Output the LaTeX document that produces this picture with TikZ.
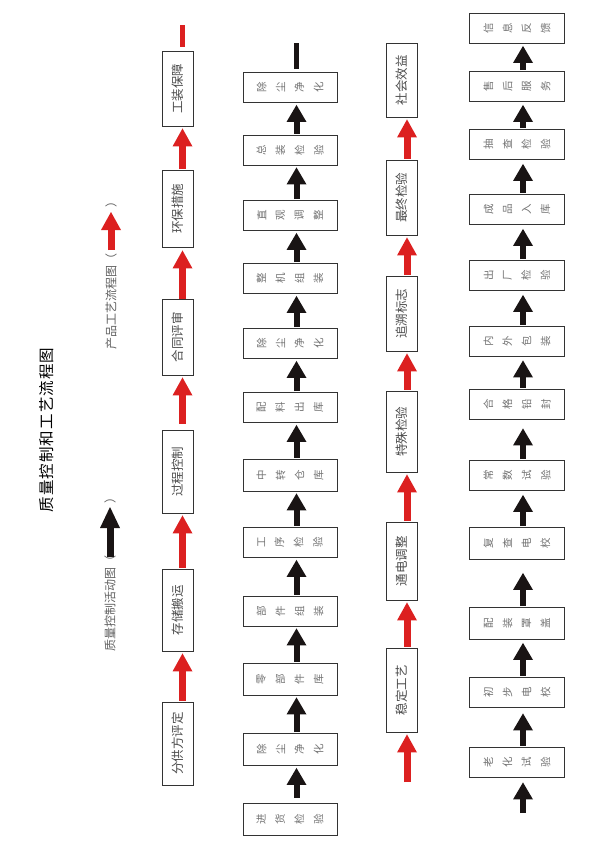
\documentclass[tikz,border=0pt]{standalone}
\usepackage{fontspec}
\setmainfont{Noto Sans CJK SC}
\usepackage{graphicx}
\usetikzlibrary{arrows.meta}
\definecolor{myred}{RGB}{220,32,32}
\definecolor{myblack}{RGB}{25,20,20}
\newcommand\cgap{\hspace{9.5pt}}
\newcommand\vq[4]{\rotatebox{90}{#1}\cgap\rotatebox{90}{#2}\cgap\rotatebox{90}{#3}\cgap\rotatebox{90}{#4}}
\newcommand\tg{\hspace{1.1pt}}
\tikzset{
  vbox/.style={draw=black!80, line width=0.9pt, minimum width=31pt, inner sep=0pt, text=black!70, font=\fontsize{12.5}{12.5}\selectfont},
  hbox/.style={draw=black!80, line width=0.9pt, minimum width=94pt, minimum height=30pt, inner sep=0pt, text=black!55, font=\fontsize{10.5}{10.5}\selectfont},
  rarrow/.style={draw=myred, line width=7pt, -{Triangle[width=20pt,length=18pt,line width=0pt]}, shorten <=1pt, shorten >=2pt},
  barrow/.style={draw=myblack, line width=6pt, -{Triangle[width=20pt,length=17pt,line width=0pt]}, shorten <=1pt, shorten >=2pt},
  rstub/.style={draw=myred, line width=5pt},
  bstub/.style={draw=myblack, line width=5pt},
  legtext/.style={inner sep=0pt, text=black!62, font=\fontsize{12}{12}\selectfont},
}
\begin{document}
\begin{tikzpicture}[x=1pt,y=-1pt]
\fill[white] (0,0) rectangle (593,852);
\useasboundingbox (0,0) rectangle (593,852);

% title
\node[inner sep=0pt, font=\fontsize{15.5}{15.5}\selectfont] (title) at (47,430)
  {\rotatebox{90}{质\tg 量\tg 控\tg 制\tg 和\tg 工\tg 艺\tg 流\tg 程\tg 图}};

% legends
\node[legtext, anchor=north] (l1t) at (110,555) {\rotatebox{90}{质量控制活动图（}};
\node[legtext, anchor=south] (l1p) at (110,504) {\rotatebox{90}{）}};
\draw[draw=myblack, line width=7pt, -{Triangle[width=20pt,length=21pt,line width=0pt]}, shorten <=-2pt, shorten >=3pt] (l1t.north) -- (l1p.south);

\node[legtext, anchor=north] (l2t) at (111,253) {\rotatebox{90}{产品工艺流程图（}};
\node[legtext, anchor=south] (l2p) at (111,208) {\rotatebox{90}{）}};
\draw[draw=myred, line width=7pt, -{Triangle[width=20pt,length=18pt,line width=0pt]}, shorten <=3pt, shorten >=4pt] (l2t.north) -- (l2p.south);

% column 1 (red)
\node[vbox, minimum height=83pt] (a1) at (177.5,743.5) {\rotatebox{90}{分供方评定}};
\node[vbox, minimum height=82pt] (a2) at (177.5,610) {\rotatebox{90}{存储搬运}};
\node[vbox, minimum height=83pt] (a3) at (177.5,471.5) {\rotatebox{90}{过程控制}};
\node[vbox, minimum height=76pt] (a4) at (177.5,337) {\rotatebox{90}{合同评审}};
\node[vbox, minimum height=77pt] (a5) at (177.5,208.5) {\rotatebox{90}{环保措施}};
\node[vbox, minimum height=75pt] (a6) at (177.5,88.5) {\rotatebox{90}{工装保障}};
\coordinate (a7) at (182.5,25);
\draw[rarrow] ([xshift=5pt]a1.north) -- ([xshift=5pt]a2.south);
\draw[rarrow] ([xshift=5pt]a2.north) -- ([xshift=5pt]a3.south);
\draw[rarrow, shorten <=6pt] ([xshift=5pt]a3.north) -- ([xshift=5pt]a4.south);
\draw[rarrow, shorten <=0pt, shorten >=3pt] ([xshift=5pt]a4.north) -- ([xshift=5pt]a5.south);
\draw[rarrow] ([xshift=5pt]a5.north) -- ([xshift=5pt]a6.south);
\draw[rstub, shorten <=4pt] ([xshift=5pt]a6.north) -- (a7);

% column 2 (black)
\node[hbox, minimum height=32pt] (b1) at (290,819) {\vq{进}{货}{检}{验}};
\node[hbox, minimum height=32pt] (b2) at (290,749.5) {\vq{除}{尘}{净}{化}};
\node[hbox, minimum height=32pt] (b3) at (290,679) {\vq{零}{部}{件}{库}};
\node[hbox] (b4) at (290,611) {\vq{部}{件}{组}{装}};
\node[hbox] (b5) at (290,542.5) {\vq{工}{序}{检}{验}};
\node[hbox, minimum height=32pt] (b6) at (290,475) {\vq{中}{转}{仓}{库}};
\node[hbox] (b7) at (290,407.5) {\vq{配}{料}{出}{库}};
\node[hbox] (b8) at (290,343.5) {\vq{除}{尘}{净}{化}};
\node[hbox] (b9) at (290,278.5) {\vq{整}{机}{组}{装}};
\node[hbox] (b10) at (290,215.5) {\vq{直}{观}{调}{整}};
\node[hbox] (b11) at (290,150) {\vq{总}{装}{检}{验}};
\node[hbox] (b12) at (290,87.5) {\vq{除}{尘}{净}{化}};
\coordinate (b13) at (296.5,43);
\draw[barrow, shorten <=5pt] ([xshift=6.5pt]b1.north) -- ([xshift=6.5pt]b2.south);
\foreach \i/\j in {b2/b3,b3/b4,b4/b5,b5/b6,b6/b7,b7/b8,b8/b9,b9/b10,b10/b11,b11/b12}
  \draw[barrow] ([xshift=6.5pt]\i.north) -- ([xshift=6.5pt]\j.south);
\draw[bstub, shorten <=3pt] ([xshift=6.5pt]b12.north) -- (b13);

% column 3 (red)
\node[vbox, minimum height=84pt] (c1) at (402,690) {\rotatebox{90}{稳定工艺}};
\node[vbox, minimum height=78pt] (c2) at (402,561) {\rotatebox{90}{通电调整}};
\node[vbox, minimum height=81pt] (c3) at (402,431.5) {\rotatebox{90}{特殊检验}};
\node[vbox, minimum height=75pt] (c4) at (402,313.5) {\rotatebox{90}{追溯标志}};
\node[vbox, minimum height=75pt] (c5) at (402,197.5) {\rotatebox{90}{最终检验}};
\node[vbox, minimum height=74pt] (c6) at (402,80) {\rotatebox{90}{社会效益}};
\coordinate (c0) at (407,782);
\draw[rarrow, shorten <=0pt] (c0) -- ([xshift=5pt]c1.south);
\foreach \i/\j in {c1/c2,c2/c3,c3/c4,c4/c5,c5/c6}
  \draw[rarrow] ([xshift=5pt]\i.north) -- ([xshift=5pt]\j.south);

% column 4 (black)
\node[hbox, minimum width=95pt] (d1) at (517,762) {\vq{老}{化}{试}{验}};
\node[hbox, minimum width=95pt] (d2) at (517,692) {\vq{初}{步}{电}{校}};
\node[hbox, minimum width=95pt, minimum height=32pt] (d3) at (517,623.5) {\vq{配}{装}{罩}{盖}};
\node[hbox, minimum width=95pt, minimum height=32pt] (d4) at (517,543.5) {\vq{复}{查}{电}{校}};
\node[hbox, minimum width=95pt] (d5) at (517,475.5) {\vq{常}{数}{试}{验}};
\node[hbox, minimum width=95pt] (d6) at (517,404) {\vq{合}{格}{铅}{封}};
\node[hbox, minimum width=95pt] (d7) at (517,341) {\vq{内}{外}{包}{装}};
\node[hbox, minimum width=95pt] (d8) at (517,275.5) {\vq{出}{厂}{检}{验}};
\node[hbox, minimum width=95pt] (d9) at (517,209.5) {\vq{成}{品}{入}{库}};
\node[hbox, minimum width=95pt] (d10) at (517,144.5) {\vq{抽}{查}{检}{验}};
\node[hbox, minimum width=95pt] (d11) at (517,86.5) {\vq{售}{后}{服}{务}};
\node[hbox, minimum width=95pt] (d12) at (517,28.5) {\vq{信}{息}{反}{馈}};
\coordinate (d0) at (523,813);
\draw[barrow, shorten <=0pt, shorten >=5pt] (d0) -- ([xshift=6pt]d1.south);
\draw[barrow, shorten >=6pt] ([xshift=6pt]d1.north) -- ([xshift=6pt]d2.south);
\draw[barrow, shorten >=3pt] ([xshift=6pt]d2.north) -- ([xshift=6pt]d3.south);
\draw[barrow, shorten >=13pt] ([xshift=6pt]d3.north) -- ([xshift=6pt]d4.south);
\draw[barrow, shorten >=4pt] ([xshift=6pt]d4.north) -- ([xshift=6pt]d5.south);
\draw[barrow, shorten >=9pt] ([xshift=6pt]d5.north) -- ([xshift=6pt]d6.south);
\foreach \i/\j in {d6/d7,d7/d8,d8/d9,d9/d10}
  \draw[barrow, shorten >=4pt] ([xshift=6pt]\i.north) -- ([xshift=6pt]\j.south);
\draw[barrow, shorten >=3pt] ([xshift=6pt]d10.north) -- ([xshift=6pt]d11.south);
\draw[barrow, shorten >=2pt] ([xshift=6pt]d11.north) -- ([xshift=6pt]d12.south);
\end{tikzpicture}
\end{document}
